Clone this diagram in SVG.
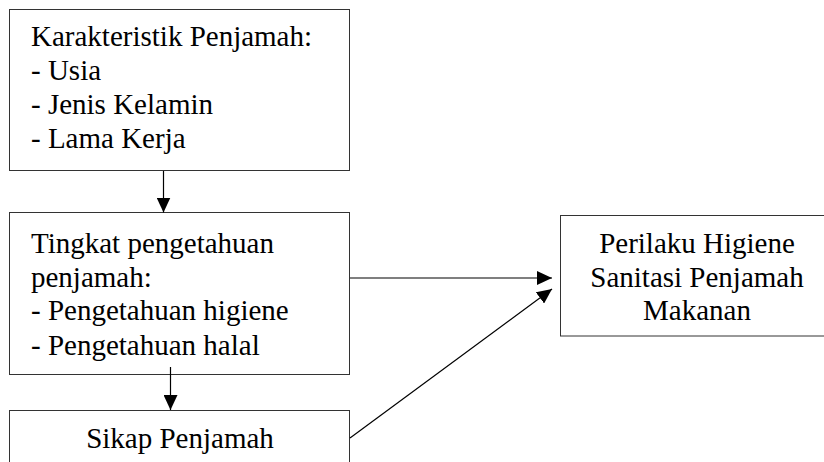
<svg xmlns="http://www.w3.org/2000/svg" width="824" height="462" viewBox="0 0 824 462">
<style>
.box{fill:#fff;stroke:#333;stroke-width:1}
.t{font-family:'Liberation Serif','Times New Roman',Times,'Nimbus Roman','DejaVu Serif',serif;font-size:29px;fill:#000}
.c{text-anchor:middle}
.conn{stroke:#000;stroke-width:1.2;fill:none;marker-end:url(#ah)}
</style>
<defs>
<marker id="ah" viewBox="0 0 15 14" refX="15" refY="7" markerWidth="15" markerHeight="14" markerUnits="userSpaceOnUse" orient="auto">
<path d="M0,0 L15,7 L0,14 z" fill="#000"/>
</marker>
</defs>
<rect width="824" height="462" fill="#fff"/>
<g id="karakteristik">
<rect class="box" x="9.5" y="9.5" width="340" height="161"/>
<text class="t" font-family="Liberation Serif, serif" x="31" y="46">Karakteristik Penjamah:</text>
<text class="t" font-family="Liberation Serif, serif" x="31" y="80">- Usia</text>
<text class="t" font-family="Liberation Serif, serif" x="31" y="114">- Jenis Kelamin</text>
<text class="t" font-family="Liberation Serif, serif" x="31" y="148">- Lama Kerja</text>
</g>
<g id="pengetahuan">
<rect class="box" x="9.5" y="212.5" width="340" height="162"/>
<text class="t" font-family="Liberation Serif, serif" x="31" y="253">Tingkat pengetahuan</text>
<text class="t" font-family="Liberation Serif, serif" x="31" y="287">penjamah:</text>
<text class="t" font-family="Liberation Serif, serif" x="31" y="320">- Pengetahuan higiene</text>
<text class="t" font-family="Liberation Serif, serif" x="31" y="355">- Pengetahuan halal</text>
</g>
<g id="sikap">
<rect class="box" x="9.5" y="410.5" width="340" height="80"/>
<text class="t c" font-family="Liberation Serif, serif" x="180" y="448">Sikap Penjamah</text>
</g>
<g id="perilaku">
<rect class="box" x="560.5" y="215.5" width="274" height="120.5"/>
<text class="t c" font-family="Liberation Serif, serif" x="697" y="253">Perilaku Higiene</text>
<text class="t c" font-family="Liberation Serif, serif" x="697" y="287">Sanitasi Penjamah</text>
<text class="t c" font-family="Liberation Serif, serif" x="697" y="320">Makanan</text>
</g>
<g id="connectors">
<line class="conn" x1="163.5" y1="171" x2="163.5" y2="212.5"/>
<line class="conn" x1="170.5" y1="367" x2="170.5" y2="410"/>
<line class="conn" x1="350" y1="278" x2="552" y2="278"/>
<line class="conn" x1="350" y1="438" x2="552" y2="289"/>
</g>
</svg>
